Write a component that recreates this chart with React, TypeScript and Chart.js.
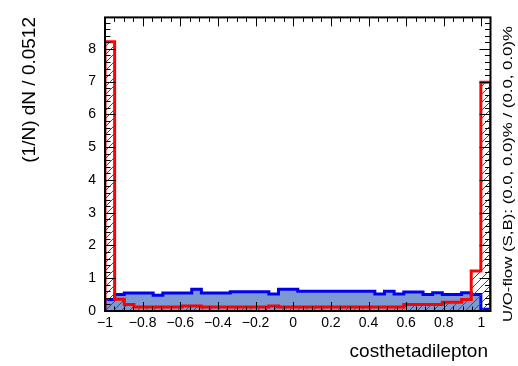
import React, { useEffect, useRef } from "react";
import { Chart, registerables } from "chart.js";

Chart.register(...registerables);

// Histogram binning (40 bins of width 0.0512 starting at -1)
const X_MIN = -1;
const X_MAX = 1.048;
const BIN_WIDTH = 0.0512;
const Y_MIN = 0;
const Y_MAX = 8.96;

// Signal (blue, filled) per-bin values, (1/N) dN / 0.0512
const signalValues = [
  0.35, 0.5, 0.55, 0.55, 0.55, 0.48, 0.55, 0.55, 0.55, 0.66,
  0.55, 0.55, 0.55, 0.59, 0.59, 0.59, 0.59, 0.52, 0.66, 0.66,
  0.6, 0.6, 0.6, 0.6, 0.6, 0.6, 0.6, 0.6, 0.52, 0.6,
  0.52, 0.58, 0.58, 0.5, 0.56, 0.5, 0.5, 0.56, 0.5, 0.05,
];

// Background (red, hatched) per-bin values
const backgroundValues = [
  8.22, 0.36, 0.2, 0.12, 0.12, 0.12, 0.12, 0.12, 0.15, 0.15,
  0.12, 0.12, 0.12, 0.12, 0.12, 0.12, 0.12, 0.15, 0.12, 0.12,
  0.12, 0.12, 0.12, 0.12, 0.12, 0.12, 0.12, 0.12, 0.12, 0.12,
  0.12, 0.2, 0.2, 0.2, 0.2, 0.27, 0.27, 0.35, 1.22, 6.98,
];

const xTickValues = [-1, -0.8, -0.6, -0.4, -0.2, 0, 0.2, 0.4, 0.6, 0.8, 1];
const xTickLabels = ["\u22121", "\u22120.8", "\u22120.6", "\u22120.4", "\u22120.2", "0", "0.2", "0.4", "0.6", "0.8", "1"];
const yTickValues = [0, 1, 2, 3, 4, 5, 6, 7, 8];
const yTickLabels = ["0", "1", "2", "3", "4", "5", "6", "7", "8"];

const X_TITLE = "costhetadilepton";
const Y_TITLE = "(1/N) dN / 0.0512";
const FLOW_TEXT = "U/O-flow (S,B): (0.0, 0.0)% / (0.0, 0.0)%";

const X_MINOR_STEP = 0.05;
const Y_MINOR_STEP = 0.2;

const FONT = "'Liberation Sans', Arial, Helvetica, sans-serif";

function toSteps(values: number[]) {
  const pts: { x: number; y: number }[] = [{ x: X_MIN, y: 0 }];
  values.forEach((v, i) => pts.push({ x: X_MIN + i * BIN_WIDTH, y: v }));
  pts.push({ x: X_MIN + values.length * BIN_WIDTH, y: 0 });
  return pts;
}

function makeHatch(ctx: CanvasRenderingContext2D): CanvasPattern | string {
  const pc = document.createElement("canvas");
  pc.width = 8;
  pc.height = 8;
  const p = pc.getContext("2d");
  if (!p) return "rgba(255,0,0,0.3)";
  p.strokeStyle = "#ff0000";
  p.lineWidth = 1;
  p.beginPath();
  p.moveTo(0, 8);
  p.lineTo(8, 0);
  p.moveTo(-2, 2);
  p.lineTo(2, -2);
  p.moveTo(6, 10);
  p.lineTo(10, 6);
  p.stroke();
  return ctx.createPattern(pc, "repeat") || "rgba(255,0,0,0.3)";
}

const framePlugin = {
  id: "rootFrame",
  afterDraw(chart: any) {
    const { ctx, chartArea, scales } = chart;
    const { left, right, top, bottom } = chartArea;
    const xs = scales.x;
    const ys = scales.y;
    ctx.save();
    ctx.strokeStyle = "#000";
    ctx.lineWidth = 1;
    ctx.beginPath();
    for (let k = 0; ; k++) {
      const v = X_MIN + k * X_MINOR_STEP;
      if (v > X_MAX + 1e-9) break;
      const major = xTickValues.some((t) => Math.abs(t - v) < 1e-6);
      const len = major ? 9 : 4.5;
      const px = Math.round(xs.getPixelForValue(v)) + 0.5;
      ctx.moveTo(px, bottom);
      ctx.lineTo(px, bottom - len);
      ctx.moveTo(px, top);
      ctx.lineTo(px, top + len);
    }
    for (let k = 0; ; k++) {
      const v = Y_MIN + k * Y_MINOR_STEP;
      if (v > Y_MAX + 1e-9) break;
      const major = yTickValues.some((t) => Math.abs(t - v) < 1e-6);
      const len = major ? 11 : 5.5;
      const py = Math.round(ys.getPixelForValue(v)) + 0.5;
      ctx.moveTo(left, py);
      ctx.lineTo(left + len, py);
      ctx.moveTo(right, py);
      ctx.lineTo(right - len, py);
    }
    ctx.stroke();
    ctx.lineWidth = 2;
    ctx.strokeRect(left, top, right - left, bottom - top);

    ctx.fillStyle = "#000";
    ctx.font = `19px ${FONT}`;
    ctx.textAlign = "right";
    ctx.textBaseline = "alphabetic";
    ctx.fillText(X_TITLE, 488, 357);

    ctx.save();
    ctx.translate(30, 17);
    ctx.rotate(-Math.PI / 2);
    ctx.textAlign = "right";
    ctx.textBaseline = "middle";
    ctx.fillText(Y_TITLE, 0, 0);
    ctx.restore();

    ctx.save();
    ctx.translate(509, 322);
    ctx.rotate(-Math.PI / 2);
    ctx.font = `12px ${FONT}`;
    ctx.textAlign = "left";
    ctx.textBaseline = "middle";
    const w = ctx.measureText(FLOW_TEXT).width;
    const target = 296;
    ctx.scale(target / w, 1);
    ctx.fillText(FLOW_TEXT, 0, 0);
    ctx.restore();

    ctx.restore();
  },
};

export default function App() {
  const canvasRef = useRef<HTMLCanvasElement | null>(null);

  useEffect(() => {
    const canvas = canvasRef.current;
    if (!canvas) return;
    const ctx = canvas.getContext("2d");
    if (!ctx) return;
    const hatch = makeHatch(ctx);

    const chart = new Chart(canvas, {
      type: "line",
      data: {
        datasets: [
          {
            label: "Background",
            data: toSteps(backgroundValues),
            stepped: "before",
            borderColor: "#ff0000",
            borderWidth: 3,
            backgroundColor: hatch as any,
            fill: "origin",
            pointRadius: 0,
            tension: 0,
          },
          {
            label: "Signal",
            data: toSteps(signalValues),
            stepped: "before",
            borderColor: "#0000ee",
            borderWidth: 3,
            backgroundColor: "#7d99d1",
            fill: "origin",
            pointRadius: 0,
            tension: 0,
          },
        ],
      },
      options: {
        animation: false,
        responsive: false,
        maintainAspectRatio: false,
        devicePixelRatio: 1,
        layout: { padding: { left: 0, top: 9, right: 27.5, bottom: 0 } },
        plugins: {
          legend: { display: false },
          tooltip: { enabled: false },
        },
        scales: {
          x: {
            type: "linear",
            min: X_MIN,
            max: X_MAX,
            grid: { display: false, drawTicks: false },
            border: { display: false },
            afterBuildTicks: (s: any) => {
              s.ticks = xTickValues.map((v) => ({ value: v }));
            },
            afterFit: (s: any) => {
              s.height = 55;
            },
            ticks: {
              autoSkip: false,
              maxRotation: 0,
              minRotation: 0,
              padding: 4,
              color: "#000",
              font: { family: FONT, size: 14 },
              callback: (_v: any, i: number) => xTickLabels[i],
            },
          },
          y: {
            type: "linear",
            min: Y_MIN,
            max: Y_MAX,
            grid: { display: false, drawTicks: false },
            border: { display: false },
            afterBuildTicks: (s: any) => {
              s.ticks = yTickValues.map((v) => ({ value: v }));
            },
            afterFit: (s: any) => {
              s.width = 105;
            },
            ticks: {
              padding: 9,
              color: "#000",
              font: { family: FONT, size: 14 },
              callback: (_v: any, i: number) => yTickLabels[i],
            },
          },
        },
      },
      plugins: [framePlugin],
    });

    return () => chart.destroy();
  }, []);

  return (
    <div style={{ position: "fixed", left: 0, top: 0, width: 518, height: 366, background: "#fff" }}>
      <canvas ref={canvasRef} width={518} height={366} style={{ width: 518, height: 366, display: "block" }} />
    </div>
  );
}
